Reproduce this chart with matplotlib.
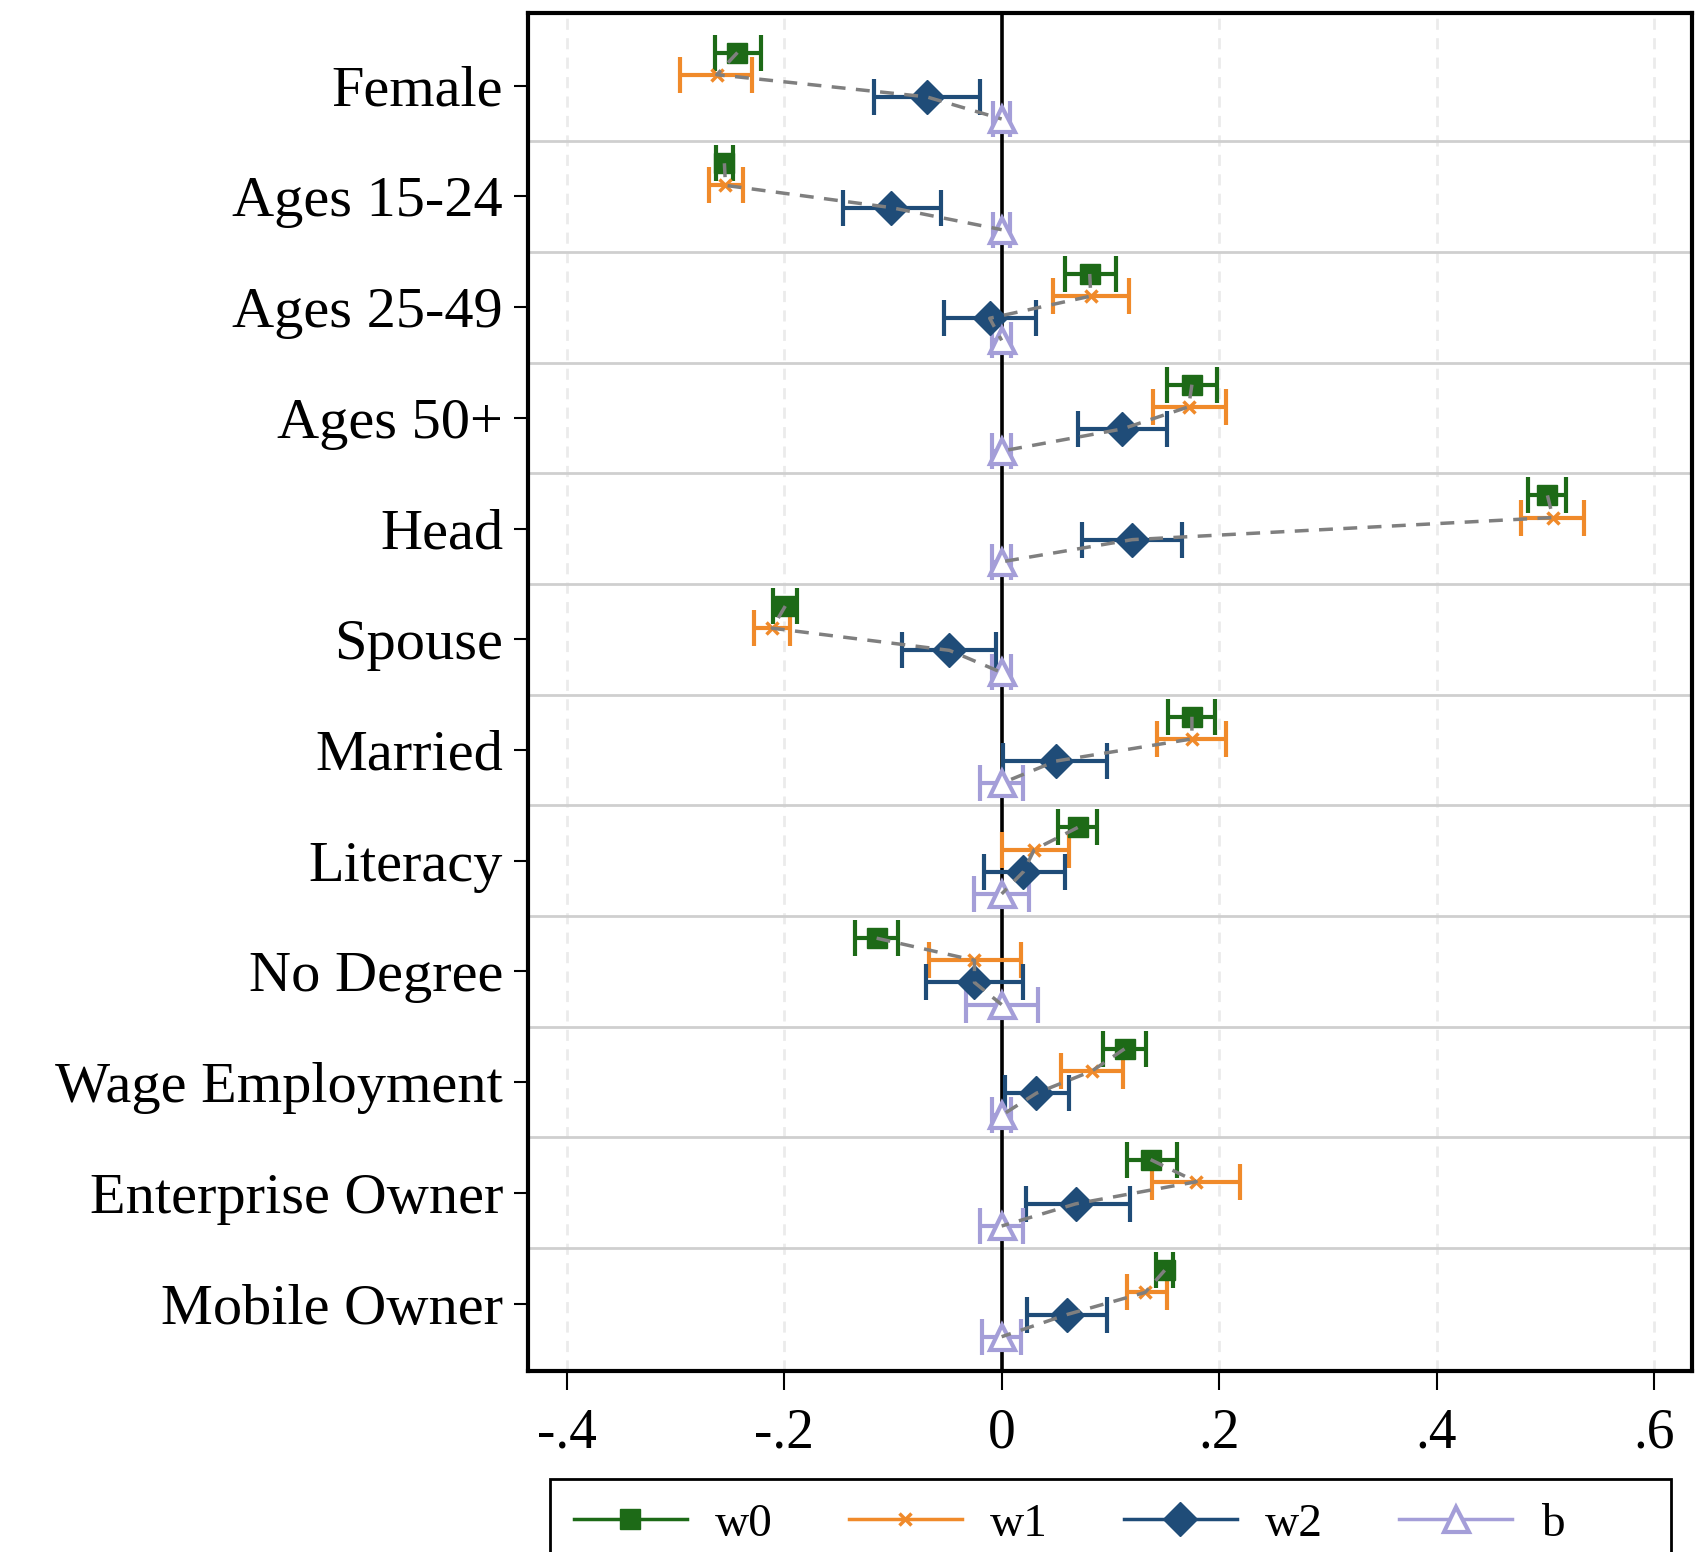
import matplotlib.pyplot as plt
import numpy as np
from matplotlib.lines import Line2D
from matplotlib.patches import Rectangle

plt.rcParams['font.family'] = ['Liberation Serif', 'DejaVu Serif']

categories = ["Female", "Ages 15-24", "Ages 25-49", "Ages 50+", "Head", "Spouse",
              "Married", "Literacy", "No Degree", "Wage Employment",
              "Enterprise Owner", "Mobile Owner"]

# point estimates and 95% bounds per decomposition step
w0 = [-0.243, -0.255, 0.081, 0.175, 0.502, -0.199, 0.175, 0.070, -0.115, 0.113, 0.137, 0.150]
w0_lo = [-0.264, -0.263, 0.058, 0.152, 0.484, -0.210, 0.153, 0.052, -0.135, 0.093, 0.115, 0.142]
w0_hi = [-0.221, -0.247, 0.105, 0.198, 0.519, -0.188, 0.196, 0.088, -0.095, 0.133, 0.161, 0.158]

w1 = [-0.262, -0.254, 0.082, 0.172, 0.507, -0.211, 0.175, 0.030, -0.025, 0.083, 0.179, 0.132]
w1_lo = [-0.296, -0.269, 0.047, 0.139, 0.478, -0.228, 0.143, 0.000, -0.067, 0.055, 0.138, 0.115]
w1_hi = [-0.230, -0.238, 0.117, 0.206, 0.536, -0.195, 0.206, 0.062, 0.018, 0.112, 0.219, 0.152]

w2 = [-0.069, -0.102, -0.011, 0.111, 0.120, -0.048, 0.050, 0.020, -0.025, 0.032, 0.068, 0.060]
w2_lo = [-0.117, -0.146, -0.053, 0.070, 0.074, -0.092, 0.001, -0.016, -0.070, 0.003, 0.022, 0.023]
w2_hi = [-0.020, -0.056, 0.032, 0.152, 0.166, -0.005, 0.097, 0.058, 0.020, 0.062, 0.118, 0.097]

b = [0.0] * 12
b_lo = [-0.008, -0.008, -0.009, -0.009, -0.009, -0.009, -0.020, -0.025, -0.033, -0.009, -0.020, -0.018]
b_hi = [0.008, 0.008, 0.009, 0.009, 0.009, 0.009, 0.020, 0.025, 0.033, 0.009, 0.020, 0.018]

xticks = [-0.4, -0.2, 0, 0.2, 0.4, 0.6]
xticklabels = ["-.4", "-.2", "0", ".2", ".4", ".6"]

GREEN = "#1d6a17"
ORANGE = "#f08a2a"
NAVY = "#1f4c78"
LAVENDER = "#a49ed8"

fig = plt.figure(figsize=(16.99, 15.52), dpi=100)
ax = fig.add_axes([0.3108, 0.1166, 0.6851, 0.8750])

pos = np.arange(len(categories))
series = [
    (w0, w0_lo, w0_hi, -0.3, GREEN, dict(marker='s', markersize=15, mfc=GREEN, mec=GREEN)),
    (w1, w1_lo, w1_hi, -0.1, ORANGE, dict(marker='x', markersize=8, mew=2.5, mec=ORANGE)),
    (w2, w2_lo, w2_hi, 0.1, NAVY, dict(marker='D', markersize=17, mfc=NAVY, mec=NAVY)),
    (b, b_lo, b_hi, 0.3, LAVENDER, dict(marker='^', markersize=18, mfc='white', mec=LAVENDER, mew=3)),
]

for vals, lo, hi, off, col, mk in series:
    vals = np.array(vals)
    err = [vals - np.array(lo), np.array(hi) - vals]
    ax.errorbar(vals, pos + off, xerr=err, fmt='none', ecolor=col,
                elinewidth=3, capsize=13, capthick=3, zorder=3)
    ax.plot(vals, pos + off, linestyle='none', zorder=4, **mk)

# dashed path linking the four estimates of each characteristic
for i in range(len(categories)):
    xs = [w0[i], w1[i], w2[i], b[i]]
    ys = [i - 0.3, i - 0.1, i + 0.1, i + 0.3]
    ax.plot(xs, ys, linestyle=(0, (4, 3)), color="#7f7f7f", linewidth=2.5, zorder=5)

ax.axvline(0, color='black', linewidth=2.6, zorder=2)
for x in xticks:
    if x != 0:
        ax.axvline(x, color='#ebebeb', linewidth=2, linestyle=(0, (4, 3)), zorder=0)
for k in range(len(categories) - 1):
    ax.axhline(k + 0.5, color='#cfcfcf', linewidth=2, zorder=1)

ax.set_xlim(-0.4356, 0.635)
ax.set_ylim(11.61, -0.657)

ax.set_yticks(pos)
ax.set_yticklabels(categories, fontsize=42)
ax.set_xticks(xticks)
ax.set_xticklabels(xticklabels, fontsize=40)
ax.tick_params(axis='y', length=10, width=1.5, pad=8)
ax.tick_params(axis='x', length=14, width=1.5, pad=12)

for s in ax.spines.values():
    s.set_linewidth(3)

handles = [
    Line2D([], [], color=GREEN, lw=2.5, marker='s', markersize=15, mfc=GREEN, mec=GREEN),
    Line2D([], [], color=ORANGE, lw=2.5, marker='x', markersize=8, mew=2.5),
    Line2D([], [], color=NAVY, lw=2.5, marker='D', markersize=17),
    Line2D([], [], color=LAVENDER, lw=2.5, marker='^', markersize=18, mfc='white', mec=LAVENDER, mew=3),
]
fig.legend(handles, ["w0", "w1", "w2", "b"], loc='upper left',
           bbox_to_anchor=(0.3237, 0.047), ncol=4, fontsize=34,
           frameon=False, handlelength=2.4, handletextpad=0.6,
           columnspacing=1.6, borderpad=0.5, borderaxespad=0)
# legend frame, wider than the entries and running off the bottom edge
fig.patches.append(Rectangle((0.3237, -0.05), 0.66, 0.097, transform=fig.transFigure,
                             fill=False, edgecolor='black', linewidth=2))

fig.savefig("out.png", dpi=100)
